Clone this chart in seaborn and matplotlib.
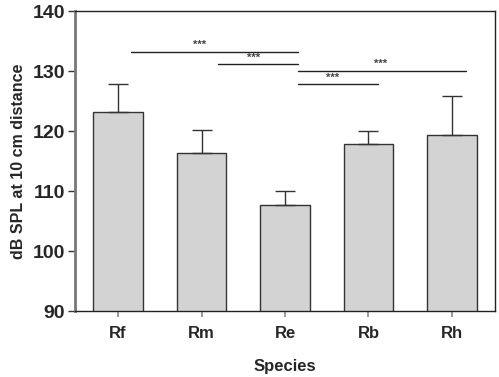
import numpy as np
import pandas as pd
import matplotlib
matplotlib.use('Agg')
import matplotlib.pyplot as plt
import seaborn as sns

# data
species = ['Rf', 'Rm', 'Re', 'Rb', 'Rh']
mean_db = [123.2, 116.4, 107.7, 117.9, 119.3]
upper_err = [4.6, 3.7, 2.3, 2.1, 6.5]

# significance brackets: (x start, x end, y, star x, label)
sig_x0 = [0.16, 1.2, 2.16, 2.16]
sig_x1 = [2.16, 2.16, 4.17, 3.11]
sig_y = [133.2, 131.1, 130.05, 127.8]
sig_star_x = [0.98, 1.62, 3.15, 2.57]
sig_lab = ['***', '***', '***', '***']

sns.set_style('white')
plt.rcParams['font.family'] = ['Liberation Sans', 'DejaVu Sans']

df = pd.DataFrame({'species': species, 'db': mean_db})

fig = plt.figure(figsize=(4.99, 3.77), dpi=100)
ax = fig.add_axes([75/499, 1 - 311/377, 420/499, 300/377])

sns.barplot(data=df, x='species', y='db', order=species, color='#d3d3d3',
            edgecolor='#333333', linewidth=1.0, width=0.59, errorbar=None,
            saturation=1, ax=ax)
ax.errorbar(np.arange(len(species)), mean_db,
            yerr=[np.zeros(len(species)), upper_err], fmt='none',
            ecolor='#333333', elinewidth=1.0, capsize=7, capthick=1.0, zorder=1)

for x0, x1, y, sx, lab in zip(sig_x0, sig_x1, sig_y, sig_star_x, sig_lab):
    ax.plot([x0, x1], [y, y], color='#222222', lw=1.0)
    ax.text(sx, y + 0.25, lab, ha='center', va='bottom',
            fontsize=8, fontweight='bold', color='#444444')

ax.set_ylim(90, 140)
ax.set_xlim(-0.515, 4.515)
ax.set_yticks([90, 100, 110, 120, 130, 140])
ax.tick_params(axis='y', direction='out', length=5, width=1, color='#333333',
               labelsize=14, pad=2, left=True)
ax.tick_params(axis='x', direction='out', length=4, width=1.2, color='#888888',
               labelsize=12, pad=7, bottom=True)
for lab in ax.get_yticklabels() + ax.get_xticklabels():
    lab.set_fontweight('bold')

for side in ['top', 'right', 'bottom']:
    ax.spines[side].set_color('#222222')
    ax.spines[side].set_linewidth(1.0)
ax.spines['left'].set_color('#777777')
ax.spines['left'].set_linewidth(2.0)

ax.set_xlabel('Species', fontsize=12, fontweight='bold', labelpad=13)
ax.set_ylabel('dB SPL at 10 cm distance', fontsize=11.5, fontweight='bold', labelpad=5)

fig.savefig('out.png', dpi=100)
